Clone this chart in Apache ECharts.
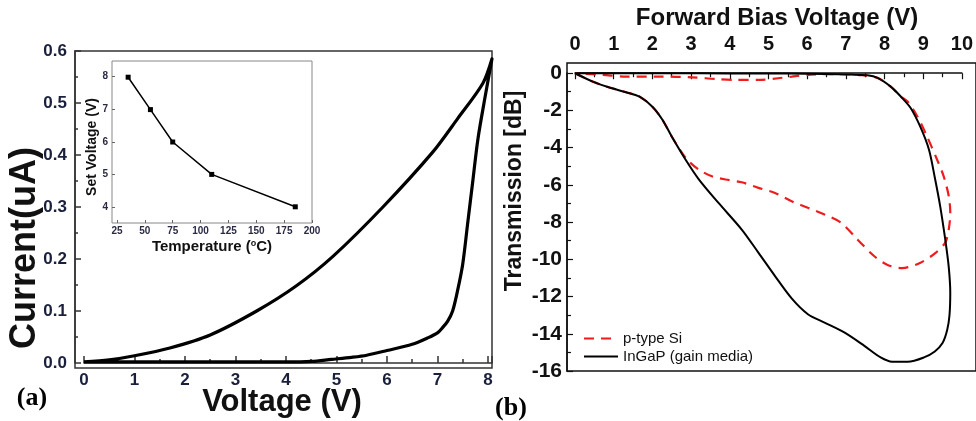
<!DOCTYPE html>
<html>
<head>
<meta charset="utf-8">
<script src="https://cdn.jsdelivr.net/npm/echarts@6/dist/echarts.min.js"></script>
<style>
  html, body { margin: 0; padding: 0; background: #fff; }
  #main { width: 976px; height: 421px; }
</style>
</head>
<body>
<div id="main"></div>
<script>
// (a) I-V loop: set branch 0 -> 8 V, then return branch 8 -> 0 V
var ivVolt = [0, 1, 2, 3, 4, 4.5, 4.9, 5.3, 5.6, 6.0, 6.5, 6.8, 7.0, 7.1, 7.2, 7.3, 7.4, 7.5, 7.6, 7.7, 7.8, 7.94, 8.08,
              7.9, 7.4, 6.91, 5.92, 4.93, 4.2, 3.42, 2.5, 1.7, 1.0, 0.5, 0];
var ivCurr = [0.002, 0.002, 0.002, 0.002, 0.002, 0.003, 0.007, 0.011, 0.015, 0.024, 0.036, 0.048, 0.058, 0.068, 0.08, 0.1, 0.14, 0.19, 0.27, 0.35, 0.43, 0.51, 0.585,
              0.538, 0.47, 0.406, 0.30, 0.205, 0.148, 0.10, 0.054, 0.029, 0.014, 0.006, 0.002];

// inset: set voltage vs temperature
var insetTemp = [35, 55, 75, 110, 185];
var insetSetV = [8, 7, 6, 5, 4];

// (b) transmission loops
var ingapVolt = [0, 0.46, 0.89, 1.32, 1.66, 2.0, 2.26, 2.5, 2.86, 3.2, 3.71, 4.31, 4.74, 5.17, 5.6, 6.02, 6.45, 6.96, 7.48, 7.9, 8.2, 8.6, 9.02, 9.3, 9.5, 9.62, 9.68, 9.7, 9.66, 9.57, 9.44, 9.3, 9.15, 8.93, 8.68, 8.42, 8.16, 7.82, 7.56, 7.13, 6.45, 5.5, 4.0, 2.5, 1.0, 0];
var ingapDb = [0, -0.45, -0.77, -1.02, -1.25, -1.8, -2.5, -3.4, -4.65, -5.7, -6.97, -8.4, -9.64, -10.9, -12.1, -12.95, -13.4, -13.93, -14.65, -15.27, -15.5, -15.5, -15.27, -14.95, -14.5, -13.8, -13.0, -11.8, -10.4, -8.93, -7.15, -5.6, -4.11, -2.9, -1.88, -1.25, -0.72, -0.25, -0.11, -0.07, -0.04, -0.02, -0.01, 0, 0, 0];

var siVolt = [0, 0.46, 0.89, 1.32, 1.66, 2.0, 2.26, 2.5, 2.77, 2.94, 3.2, 3.54, 3.89, 4.31, 4.74, 5.17, 5.6, 6.02, 6.45, 6.88, 7.3, 7.73, 8.08, 8.45, 8.93, 9.32, 9.57, 9.66, 9.7, 9.66, 9.53, 9.36, 9.1, 8.85, 8.59, 8.42, 8.16, 7.82, 7.4, 6.8, 6.1, 5.6, 5.25, 4.74, 4.14, 3.63, 3.03, 2.17, 1.32, 0.72, 0];
var siDb = [0, -0.45, -0.77, -1.02, -1.25, -1.8, -2.5, -3.4, -4.29, -4.73, -5.18, -5.54, -5.71, -5.86, -6.16, -6.43, -6.88, -7.23, -7.59, -8.04, -8.93, -9.82, -10.3, -10.47, -10.18, -9.65, -9.1, -8.4, -7.5, -6.6, -5.54, -4.65, -3.4, -2.32, -1.5, -1.25, -0.72, -0.25, -0.1, -0.05, -0.07, -0.18, -0.27, -0.36, -0.36, -0.31, -0.22, -0.18, -0.18, -0.09, 0];

function pairs(xs, ys) {
    var out = [];
    for (var i = 0; i < xs.length; i++) out.push([xs[i], ys[i]]);
    return out;
}

var sans = 'Liberation Sans, Arial, sans-serif';
var navy = '#1a1f3c';

function hidden(grid, min, max) {
    return { gridIndex: grid, type: 'value', show: false, min: min, max: max };
}

var chart = echarts.init(document.getElementById('main'));

var option = {
    animation: false,
    backgroundColor: '#fff',
    grid: [
        { left: 75, top: 51, width: 417, height: 317, show: true, borderColor: '#333', borderWidth: 1.5 },
        { left: 84, top: 51, width: 408, height: 317 },
        { left: 75, top: 51, width: 417, height: 312 },
        { left: 567, top: 63, width: 420, height: 308, show: true, borderColor: '#111', borderWidth: 1.5 },
        { left: 575, top: 63, width: 390, height: 308 },
        { left: 567, top: 73, width: 400, height: 298 },
        { left: 112, top: 61, width: 200, height: 162, show: true, borderColor: '#888', borderWidth: 1, backgroundColor: '#fff' },
        { left: 117, top: 61, width: 195, height: 162 },
        { left: 112, top: 61, width: 200, height: 146 }
    ],
    xAxis: [
        hidden(0, 0, 1),
        {
            gridIndex: 1, type: 'value', min: 0, max: 8.08, interval: 1,
            axisLine: { lineStyle: { color: '#333', width: 1.5 } },
            axisTick: { inside: true, length: 7, lineStyle: { color: '#333', width: 1.5 } },
            minorTick: { show: true, splitNumber: 2, length: 4, lineStyle: { color: '#333', width: 1.5 } },
            splitLine: { show: false },
            axisLabel: { margin: 4, fontSize: 17, fontWeight: 'bold', fontFamily: sans, color: navy, showMaxLabel: false,
                formatter: function (v) { return v <= 8 ? String(v) : ''; } }
        },
        hidden(2, 0, 1),
        hidden(3, 0, 1),
        {
            gridIndex: 4, type: 'value', position: 'top', min: 0, max: 10, interval: 1,
            axisLine: { lineStyle: { color: '#111', width: 1.5 } },
            axisTick: { inside: true, length: 6, lineStyle: { color: '#111', width: 1.2 } },
            minorTick: { show: true, splitNumber: 2, length: 4, lineStyle: { color: '#111', width: 1.2 } },
            splitLine: { show: false },
            axisLabel: { margin: 9, fontSize: 20, fontWeight: 'bold', fontFamily: sans, color: '#111' }
        },
        hidden(5, 0, 1),
        hidden(6, 0, 1),
        {
            gridIndex: 7, type: 'value', min: 25, max: 200, interval: 25,
            axisLine: { show: false },
            axisTick: { inside: true, length: 3, lineStyle: { color: '#666' } },
            splitLine: { show: false },
            axisLabel: { margin: 3, fontSize: 10, fontWeight: 'bold', fontFamily: sans, color: '#2a2a44' }
        },
        hidden(8, 0, 1)
    ],
    yAxis: [
        hidden(0, 0, 1),
        hidden(1, -0.0096, 0.6),
        {
            gridIndex: 2, type: 'value', min: 0, max: 0.6, interval: 0.1,
            axisLine: { show: true, lineStyle: { color: '#333', width: 1.5 } },
            axisTick: { show: true, inside: true, length: 6, lineStyle: { color: '#333', width: 1.5 } },
            minorTick: { show: true, splitNumber: 2, length: 3, lineStyle: { color: '#333', width: 1.5 } },
            splitLine: { show: false },
            axisLabel: { margin: 8, fontSize: 17, fontWeight: 'bold', fontFamily: sans, color: navy,
                formatter: function (v) { return v.toFixed(1); } }
        },
        hidden(3, 0, 1),
        hidden(4, -16, 0.55),
        {
            gridIndex: 5, type: 'value', min: -16, max: 0, interval: 2,
            axisLine: { show: true, lineStyle: { color: '#111', width: 1.5 } },
            axisTick: { show: true, inside: true, length: 6, lineStyle: { color: '#111', width: 1.2 } },
            minorTick: { show: true, splitNumber: 2, length: 4, lineStyle: { color: '#111', width: 1.2 } },
            splitLine: { show: false },
            axisLabel: { margin: 5, fontSize: 21, fontWeight: 'bold', fontFamily: sans, color: '#111' }
        },
        hidden(6, 0, 1),
        hidden(7, 3.5, 8.5),
        {
            gridIndex: 8, type: 'value', min: 4, max: 8.48, interval: 1,
            axisLine: { show: false },
            axisTick: { show: true, inside: true, length: 3, lineStyle: { color: '#666' } },
            splitLine: { show: false },
            axisLabel: { margin: 4, fontSize: 10, fontWeight: 'bold', fontFamily: sans, color: '#2a2a44', showMaxLabel: false,
                formatter: function (v) { return v % 1 === 0 ? String(v) : ''; } }
        }
    ],
    legend: {
        orient: 'vertical', left: 578, top: 326, itemGap: 3, itemWidth: 34, itemHeight: 14,
        itemStyle: { opacity: 0 },
        textStyle: { fontSize: 15, fontFamily: sans, color: '#111' },
        data: ['p-type Si', 'InGaP (gain media)']
    },
    series: [
        {
            type: 'line', xAxisIndex: 1, yAxisIndex: 1, data: pairs(ivVolt, ivCurr),
            symbol: 'none', smooth: 0.3, lineStyle: { color: '#000', width: 3.2 }
        },
        {
            type: 'line', xAxisIndex: 7, yAxisIndex: 7, data: pairs(insetTemp, insetSetV),
            symbol: 'rect', symbolSize: 5, itemStyle: { color: '#000' }, lineStyle: { color: '#000', width: 1.5 }
        },
        {
            name: 'p-type Si', type: 'line', xAxisIndex: 4, yAxisIndex: 4, data: pairs(siVolt, siDb),
            symbol: 'none', smooth: 0.3, itemStyle: { color: '#ee1c1c' },
            lineStyle: { color: '#ee1c1c', width: 2.2, type: [10, 7] }
        },
        {
            name: 'InGaP (gain media)', type: 'line', xAxisIndex: 4, yAxisIndex: 4, data: pairs(ingapVolt, ingapDb),
            symbol: 'none', smooth: 0.3, itemStyle: { color: '#000' },
            lineStyle: { color: '#000', width: 2 }
        }
    ],
    graphic: [
        { type: 'text', x: 25, y: 248, rotation: Math.PI / 2,
          style: { text: 'Current(uA)', font: 'bold 36px ' + sans, fill: '#111', align: 'center', verticalAlign: 'middle' } },
        { type: 'text', x: 282, y: 402,
          style: { text: 'Voltage (V)', font: 'bold 31px ' + sans, fill: '#111', align: 'center', verticalAlign: 'middle' } },
        { type: 'text', x: 92, y: 147, rotation: Math.PI / 2,
          style: { text: 'Set Voltage (V)', font: 'bold 14px ' + sans, fill: '#111', align: 'center', verticalAlign: 'middle' } },
        { type: 'text', x: 212, y: 247,
          style: { text: 'Temperature ({s|o}C)', font: 'bold 15px ' + sans, fill: '#111', align: 'center', verticalAlign: 'middle',
                   rich: { s: { fontSize: 9, fontWeight: 'bold', fontFamily: sans, fill: '#111', verticalAlign: 'top' } } } },
        { type: 'text', x: 32, y: 398,
          style: { text: '(a)', font: 'bold 26px Liberation Serif, Times New Roman, serif', fill: '#000', align: 'center', verticalAlign: 'middle' } },
        { type: 'text', x: 511, y: 408,
          style: { text: '(b)', font: 'bold 26px Liberation Serif, Times New Roman, serif', fill: '#000', align: 'center', verticalAlign: 'middle' } },
        { type: 'text', x: 777, y: 18,
          style: { text: 'Forward Bias Voltage (V)', font: 'bold 24px ' + sans, fill: '#111', align: 'center', verticalAlign: 'middle' } },
        { type: 'text', x: 515, y: 191, rotation: Math.PI / 2,
          style: { text: 'Transmission [dB]', font: 'bold 23px ' + sans, fill: '#111', align: 'center', verticalAlign: 'middle' } }
    ]
};

chart.setOption(option);
</script>
</body>
</html>
